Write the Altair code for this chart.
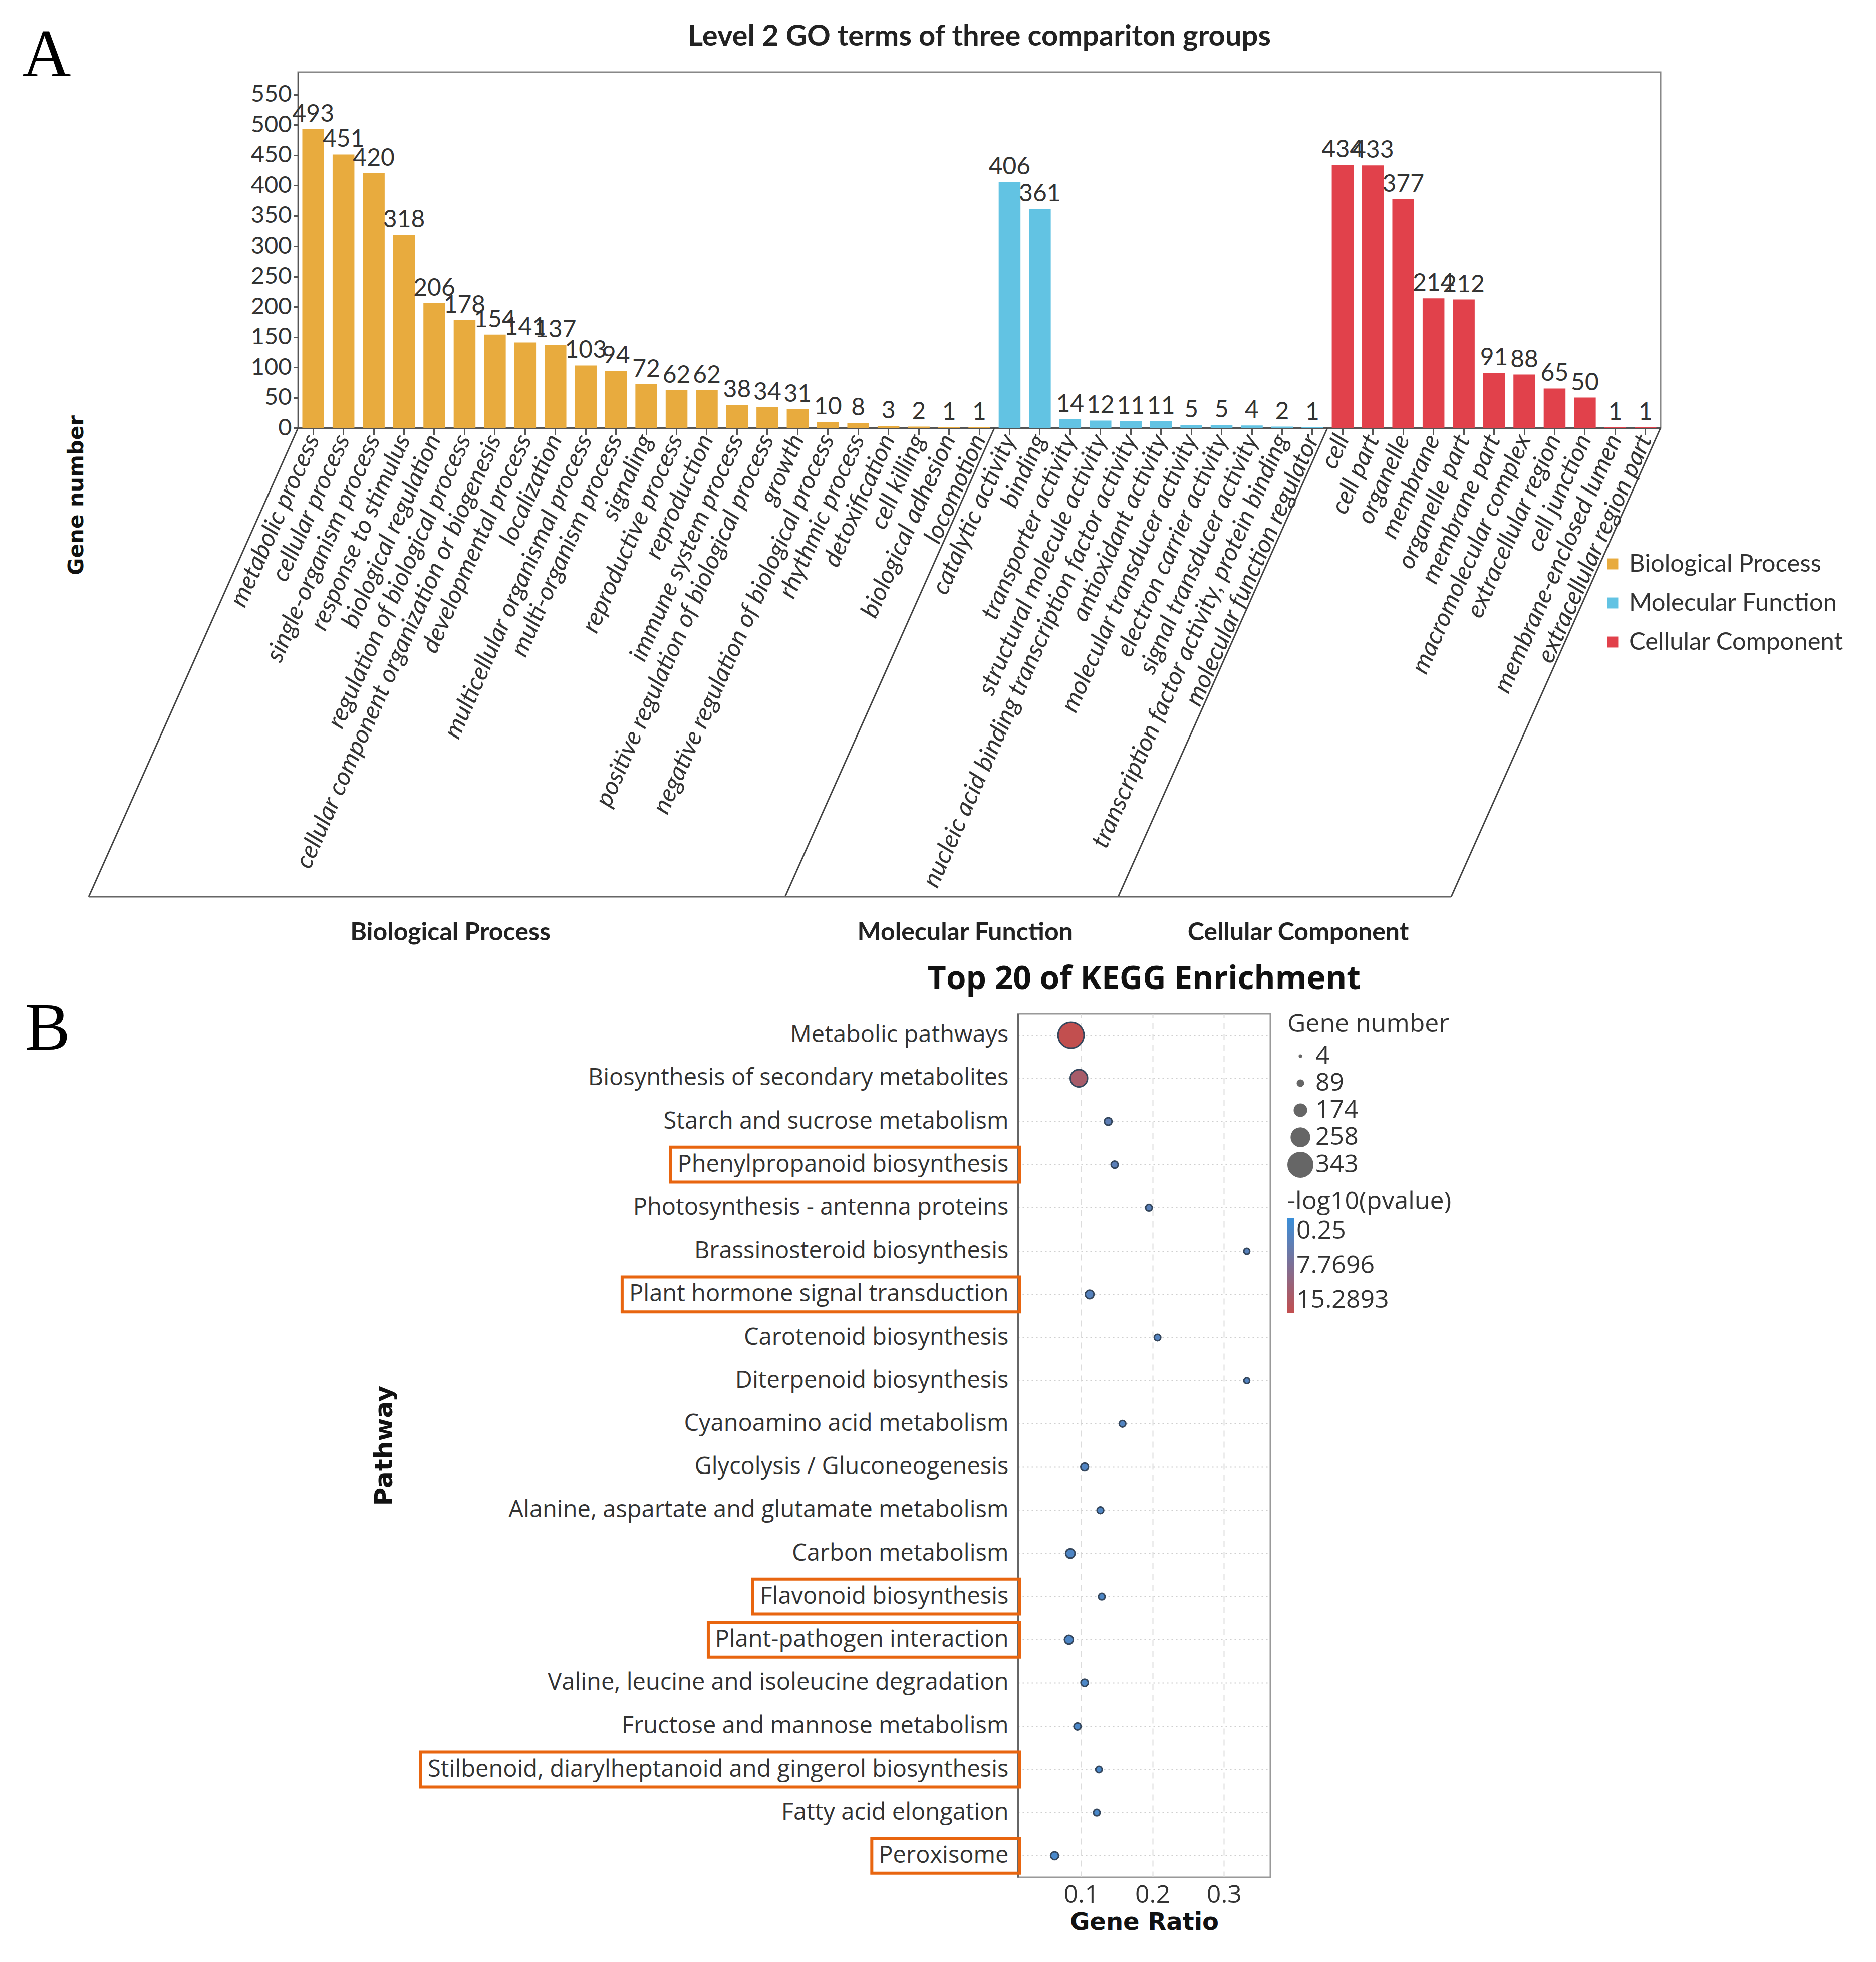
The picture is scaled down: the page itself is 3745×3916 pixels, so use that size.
import altair as alt
import pandas as pd

# ---------------- Panel A data (GO level 2) ----------------
bp_terms = ["metabolic process", "cellular process", "single-organism process", "response to stimulus",
            "biological regulation", "regulation of biological process",
            "cellular component organization or biogenesis", "developmental process", "localization",
            "multicellular organismal process", "multi-organism process", "signaling", "reproductive process",
            "reproduction", "immune system process", "positive regulation of biological process", "growth",
            "negative regulation of biological process", "rhythmic process", "detoxification", "cell killing",
            "biological adhesion", "locomotion"]
bp_values = [493, 451, 420, 318, 206, 178, 154, 141, 137, 103, 94, 72, 62, 62, 38, 34, 31, 10, 8, 3, 2, 1, 1]

mf_terms = ["catalytic activity", "binding", "transporter activity", "structural molecule activity",
            "nucleic acid binding transcription factor activity", "antioxidant activity",
            "molecular transducer activity", "electron carrier activity", "signal transducer activity",
            "transcription factor activity, protein binding", "molecular function regulator"]
mf_values = [406, 361, 14, 12, 11, 11, 5, 5, 4, 2, 1]

cc_terms = ["cell", "cell part", "organelle", "membrane", "organelle part", "membrane part",
            "macromolecular complex", "extracellular region", "cell junction", "membrane-enclosed lumen",
            "extracellular region part"]
cc_values = [434, 433, 377, 214, 212, 91, 88, 65, 50, 1, 1]

group_names = ["Biological Process", "Molecular Function", "Cellular Component"]
group_colors = ["#E8AB3E", "#62C3E3", "#E1414B"]

# ---------------- Panel B data (KEGG top 20) ----------------
kegg_pathways = ["Metabolic pathways", "Biosynthesis of secondary metabolites", "Starch and sucrose metabolism",
                 "Phenylpropanoid biosynthesis", "Photosynthesis - antenna proteins",
                 "Brassinosteroid biosynthesis", "Plant hormone signal transduction", "Carotenoid biosynthesis",
                 "Diterpenoid biosynthesis", "Cyanoamino acid metabolism", "Glycolysis / Gluconeogenesis",
                 "Alanine, aspartate and glutamate metabolism", "Carbon metabolism", "Flavonoid biosynthesis",
                 "Plant-pathogen interaction", "Valine, leucine and isoleucine degradation",
                 "Fructose and mannose metabolism", "Stilbenoid, diarylheptanoid and gingerol biosynthesis",
                 "Fatty acid elongation", "Peroxisome"]
kegg_ratio = [0.086, 0.097, 0.138, 0.147, 0.195, 0.332, 0.112, 0.207, 0.332, 0.158,
              0.105, 0.127, 0.085, 0.129, 0.083, 0.105, 0.095, 0.125, 0.122, 0.063]
kegg_count = [343, 225, 89, 82, 75, 65, 105, 72, 62, 74, 92, 76, 115, 74, 108, 86, 82, 72, 74, 95]
kegg_logp = [15.2893, 12.3, 4.2, 3.9, 3.7, 3.5, 3.3, 3.1, 3.0, 2.9,
             2.8, 2.6, 2.5, 2.4, 2.3, 2.2, 2.1, 2.0, 1.9, 1.8]
highlighted = ["Phenylpropanoid biosynthesis", "Plant hormone signal transduction", "Flavonoid biosynthesis",
               "Plant-pathogen interaction", "Stilbenoid, diarylheptanoid and gingerol biosynthesis", "Peroxisome"]

# ---------------- helpers ----------------
OPEN_SANS_W = {' ': .26, 'a': .556, 'b': .613, 'c': .476, 'd': .613, 'e': .561, 'f': .339, 'g': .548,
               'h': .614, 'i': .253, 'j': .253, 'k': .525, 'l': .253, 'm': .93, 'n': .614, 'o': .604,
               'p': .613, 'q': .613, 'r': .408, 's': .477, 't': .353, 'u': .614, 'v': .501, 'w': .778,
               'x': .524, 'y': .502, 'z': .477, 'P': .603, 'F': .531, 'S': .547, '-': .322, ',': .245}


def text_width(s, size):
    return sum(OPEN_SANS_W.get(ch, .6) for ch in s) * size


# ---------------- Panel A ----------------
terms = bp_terms + mf_terms + cc_terms
values = bp_values + mf_values + cc_values
groups = ([group_names[0]] * len(bp_terms) + [group_names[1]] * len(mf_terms)
          + [group_names[2]] * len(cc_terms))
go = pd.DataFrame({"term": terms, "value": values, "group": groups})

n_terms = len(terms)
counts = [len(bp_terms), len(mf_terms), len(cc_terms)]
bounds = [0, counts[0], counts[0] + counts[1], n_terms]
mids = [(bounds[i] + bounds[i + 1]) / 2 for i in range(3)]

W_A, H_A = 2720, 710
FLOOR = 936
SLANT = -418
TXT = "#333333"
LETTER_X = -551

x_band = alt.X("term:N", sort=terms,
               scale=alt.Scale(paddingInner=0.28, paddingOuter=0.14),
               axis=alt.Axis(title=None, labelAngle=294, labelAlign="right", labelBaseline="middle",
                             labelFont="Lato", labelFontStyle="italic", labelFontSize=50, labelColor=TXT,
                             tickSize=14, tickColor="#555", tickWidth=3, domainColor="#555", domainWidth=3,
                             labelPadding=2, labelOverlap=False, labelLimit=0))
y_val = alt.Y("value:Q", scale=alt.Scale(domain=[0, 587], nice=False),
              axis=alt.Axis(values=list(range(0, 551, 50)), title="Gene number", titleFont="DejaVu Sans",
                            titleFontWeight="bold", titleFontSize=42, titleColor="#111", titleX=-443,
                            titleY=844, titleAngle=270, titleBaseline="middle", titleAlign="center",
                            labelFont="Lato", labelFontSize=47, labelColor=TXT, tickSize=9, tickWidth=3,
                            tickColor="#555", domainColor="#555", domainWidth=3, grid=False, labelPadding=4))

bars = alt.Chart(go).mark_bar().encode(
    x=x_band, y=y_val,
    color=alt.Color("group:N", scale=alt.Scale(domain=group_names, range=group_colors),
                    legend=alt.Legend(title=None, orient="none", legendX=2600, legendY=957,
                                      symbolType="square", symbolSize=480, symbolStrokeWidth=0,
                                      labelFont="Lato", labelFontSize=49, labelColor=TXT, labelLimit=0,
                                      rowPadding=28, labelOffset=8)))
bar_vals = alt.Chart(go).mark_text(dy=-5, baseline="bottom", font="Lato", fontSize=48, color=TXT).encode(
    x=alt.X("term:N", sort=terms), y="value:Q", text="value:Q")

u_scale = alt.Scale(domain=[0, n_terms], nice=False, zero=False)
sep_df = pd.DataFrame({"u": bounds})
seps = alt.Chart(sep_df).mark_rule(color="#444", strokeWidth=3, x2Offset=SLANT).encode(
    x=alt.X("u:Q", scale=u_scale, axis=None), x2="u:Q",
    y=alt.value(H_A), y2=alt.value(H_A + FLOOR))
floor_df = pd.DataFrame({"u0": [0], "u1": [n_terms]})
floor = alt.Chart(floor_df).mark_rule(color="#666", strokeWidth=3, xOffset=SLANT, x2Offset=SLANT).encode(
    x=alt.X("u0:Q", scale=u_scale, axis=None), x2="u1:Q", y=alt.value(H_A + FLOOR))
grp_df = pd.DataFrame({"mid": mids, "group": group_names})
grp_labels = alt.Chart(grp_df).mark_text(xOffset=SLANT + 27, font="Lato", fontWeight="bold", fontSize=50,
                                         color="#222", baseline="middle").encode(
    x=alt.X("mid:Q", scale=u_scale, axis=None), y=alt.value(H_A + FLOOR + 72), text="group:N")

title_a = alt.Chart(pd.DataFrame({"t": ["Level 2 GO terms of three compariton groups"]})).mark_text(
    font="Lato", fontWeight="bold", fontSize=58, color="#222", baseline="middle").encode(
    x=alt.value(W_A / 2), y=alt.value(-70), text="t:N")
letter_a = alt.Chart(pd.DataFrame({"t": ["A"]})).mark_text(
    font="Liberation Serif", fontSize=135, align="left", baseline="alphabetic", color="#000").encode(
    x=alt.value(LETTER_X), y=alt.value(8), text="t:N")

panel_a = alt.layer(alt.layer(bars, bar_vals), seps, floor, grp_labels, title_a, letter_a).resolve_scale(
    x="independent").properties(width=W_A, height=H_A,
                                view=alt.ViewBackground(stroke="#888", strokeWidth=3))

# ---------------- Panel B ----------------
W_B, H_B = 504, 1724
LAB_SIZE = 47
LAB_PAD = 19
kegg = pd.DataFrame({"pathway": kegg_pathways, "ratio": kegg_ratio, "count": kegg_count, "logp": kegg_logp})
boxes = pd.DataFrame({"pathway": highlighted})
boxes["bx1"] = [-(LAB_PAD + text_width(p, LAB_SIZE) + 13) for p in highlighted]
boxes["bx2"] = 3

y_path = alt.Y("pathway:N", sort=kegg_pathways,
               scale=alt.Scale(type="band", paddingInner=0, paddingOuter=0),
               axis=alt.Axis(title="Pathway", titleFont="DejaVu Sans", titleFontWeight="bold",
                             titleFontSize=50, titleColor="#111", titleX=-1265, titleY=H_B / 2,
                             titleAngle=270, titleBaseline="middle", titleAlign="center",
                             labelFont="Open Sans", labelFontSize=LAB_SIZE, labelColor=TXT, labelPadding=LAB_PAD,
                             ticks=False, labelLimit=0, domainColor="#666", domainWidth=3, grid=True,
                             bandPosition=0.5, gridDash=[3, 6], gridColor="#cfcfcf", gridWidth=2))

points = alt.Chart(kegg).mark_circle(opacity=1, stroke="#34465c", strokeWidth=3).encode(
    x=alt.X("ratio:Q", scale=alt.Scale(domain=[0.0116, 0.365], nice=False, zero=False),
            axis=alt.Axis(values=[0.1, 0.2, 0.3], format=".1f", title="Gene Ratio", titleFont="DejaVu Sans",
                          titleFontWeight="bold", titleFontSize=48, titleColor="#111", titlePadding=6,
                          labelFont="Open Sans", labelFontSize=50, labelColor=TXT, ticks=False,
                          labelPadding=10, domainColor="#999", domainWidth=3, grid=True,
                          gridDash=[12, 10], gridColor="#dcdcdc", gridWidth=2)),
    y=y_path,
    size=alt.Size("count:Q", scale=alt.Scale(type="pow", exponent=2, domain=[4, 343], range=[50, 2700]),
                  legend=alt.Legend(title="Gene number", values=[4, 89, 174, 258, 343], orient="none",
                                    legendX=538, legendY=-4, symbolFillColor="#666", symbolStrokeColor="#666",
                                    symbolOpacity=1, symbolStrokeWidth=0, titleFont="Open Sans",
                                    titleFontWeight="normal", titleFontSize=50, titleColor=TXT, titleLimit=0,
                                    labelFont="Open Sans", labelFontSize=50, labelColor=TXT, labelLimit=0,
                                    rowPadding=4, labelOffset=4, titlePadding=14)),
    color=alt.Color("logp:Q", scale=alt.Scale(domain=[15.2893, 0.25], range=["#c24f4f", "#3a8fd9"],
                                              interpolate="rgb"),
                    legend=alt.Legend(title="-log10(pvalue)", values=[0.25, 7.7696, 15.2893], format=".6~g",
                                      orient="none", legendX=538, legendY=351, gradientLength=188,
                                      gradientThickness=14, gradientStrokeWidth=0, titleFont="Open Sans",
                                      titleFontWeight="normal", titleFontSize=50, titleColor=TXT, titleLimit=0,
                                      labelFont="Open Sans", labelFontSize=50, labelColor=TXT, labelLimit=0,
                                      labelOverlap=False, labelOffset=4, titlePadding=8)))

box_layer = alt.Chart(boxes).mark_bar(fill="transparent", stroke="#E8650F", strokeWidth=6,
                                      height={"band": 0.81}).encode(
    x=alt.X("bx1:Q", scale=None, axis=None), x2="bx2:Q", y=alt.Y("pathway:N", sort=kegg_pathways))

title_b = alt.Chart(pd.DataFrame({"t": ["Top 20 of KEGG Enrichment"]})).mark_text(
    font="Open Sans", fontWeight="bold", fontSize=64, color="#111", baseline="middle").encode(
    x=alt.value(W_B / 2), y=alt.value(-68), text="t:N")

panel_b = alt.layer(points, box_layer, title_b).properties(
    width=W_B, height=H_B, view=alt.ViewBackground(stroke="#999", strokeWidth=3))

# spacer column that carries the panel letter and shifts panel B to the right
letter_b = alt.Chart(pd.DataFrame({"t": ["B"]})).mark_text(
    font="Liberation Serif", fontSize=135, align="left", baseline="alphabetic", color="#000").encode(
    x=alt.value(LETTER_X + 6), y=alt.value(72), text="t:N").properties(
    width=144, height=H_B, view=alt.ViewBackground(stroke="transparent"))

row_b = alt.hconcat(letter_b, panel_b, spacing=0).resolve_scale(
    color="independent", size="independent").resolve_legend(color="independent", size="independent")

chart = alt.vconcat(panel_a, row_b, spacing=32).resolve_scale(
    color="independent", size="independent").resolve_legend(
    color="independent", size="independent").properties(
    padding={"left": 34, "top": 34, "right": 5, "bottom": 5})

chart.save("out.html", embed_options={"renderer": "svg", "actions": False})
